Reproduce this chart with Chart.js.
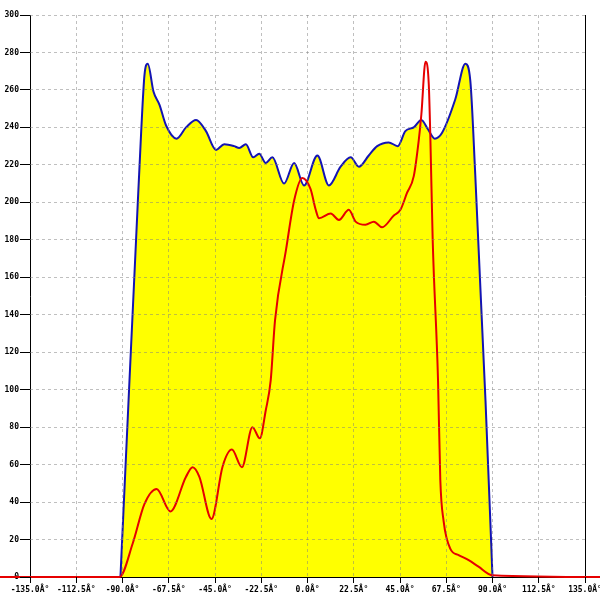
<!DOCTYPE html>
<html>
<head>
<meta charset="utf-8">
<script src="https://cdn.jsdelivr.net/npm/chart.js@4"></script>
<style>
  body { margin: 0; background: #fff; }
  canvas { display: block; }
</style>
</head>
<body>
<canvas id="chart" width="600" height="600"></canvas>
<script>
// angulos y valores
const blueAngles = [-91, -86.6, -83.4, -80.9, -79.3, -77.7, -74.9, -72, -68.8, -63.7, -59.1, -54.2, -49.4, -44.5, -40.5, -35.7, -33.2, -30, -26.4, -23.5, -20.3, -17.1, -11.4, -6.5, -1.7, 4.8, 10.4, 16.1, 21, 25, 29.8, 33.9, 39.5, 43.9, 47.6, 51.7, 55.4, 58.6, 61.9, 65.4, 71.9, 76.8, 79.2, 81.6, 86.6, 90];
const blueValues = [0, 105, 180, 238, 268, 274, 259, 252, 241, 234, 240, 244, 238, 228, 231, 230, 229, 231, 224, 226, 221, 224, 210, 221, 209, 225, 209, 219, 224, 219, 225, 230, 232, 230, 238, 240, 244, 239, 234, 237, 255, 274, 265, 215, 94, 0];

const redAngles = [-150, -91.5, -85, -79.3, -73.4, -66.7, -59.1, -55.9, -52.6, -46.7, -41.3, -36.8, -31.9, -26.8, -23.2, -20.3, -17.9, -15.8, -10.4, -6.5, -2.5, 1.5, 4, 5.6, 11.3, 15.3, 20.1, 23.4, 28.2, 32.3, 36.3, 42, 45.2, 48.4, 51.7, 54.1, 55.4, 57.4, 59, 59.8, 60.9, 63.5, 64.6, 66.2, 69.5, 73.5, 78.4, 83.2, 89.7, 150];
const redValues = [0, 0, 18, 39, 47, 35, 53.5, 58.6, 53.5, 31, 59, 68, 58.6, 80, 74, 89, 105, 137, 175, 201, 213, 207, 196, 191.5, 194, 190.6, 196, 189.7, 188, 189.7, 186.7, 193, 196, 205, 214, 233, 247, 275, 263, 233, 180, 105, 52, 30, 15, 11.7, 9, 5.5, 1, 0];

const xMin = -135, xMax = 135, xStep = 22.5;
const yMin = 0, yMax = 300, yStep = 20;

const toPoints = (xs, ys) => xs.map((x, i) => ({ x: x, y: ys[i] }));

const tickFont = { family: 'DejaVu Sans Mono', size: 8, weight: 'bold' };
const gridColor = 'rgba(128,128,128,0.5)';

// ejes negros: encima del relleno amarillo pero debajo de la linea roja
const axisLines = {
    id: 'axisLines',
    afterDatasetDraw(chart, args) {
        if (args.index !== 1) return;
        const a = chart.chartArea;
        const c = chart.ctx;
        const l = Math.round(a.left) + 0.5, r = Math.round(a.right) + 0.5;
        const t = Math.round(a.top), b = Math.round(a.bottom) + 0.5;
        c.save();
        c.strokeStyle = '#000';
        c.lineWidth = 1;
        c.beginPath();
        c.moveTo(l, t); c.lineTo(l, b);
        c.moveTo(l, b); c.lineTo(r, b);
        c.moveTo(r, t); c.lineTo(r, b);
        c.stroke();
        c.restore();
    }
};

const ctx = document.getElementById('chart').getContext('2d');
new Chart(ctx, {
    type: 'line',
    data: {
        datasets: [
            {
                data: toPoints(redAngles, redValues),
                borderColor: '#e60000',
                borderWidth: 2,
                pointRadius: 0,
                fill: false,
                cubicInterpolationMode: 'monotone',
                clip: false,
                order: 0
            },
            {
                data: toPoints(blueAngles, blueValues),
                borderColor: '#1414b4',
                backgroundColor: '#ffff00',
                borderWidth: 2,
                pointRadius: 0,
                fill: 'origin',
                cubicInterpolationMode: 'monotone',
                order: 1
            }
        ]
    },
    options: {
        responsive: false,
        animation: false,
        layout: { padding: { top: 15, left: 0, right: 15, bottom: 0 } },
        plugins: { legend: { display: false }, tooltip: { enabled: false } },
        scales: {
            x: {
                type: 'linear',
                min: xMin,
                max: xMax,
                ticks: {
                    stepSize: xStep,
                    autoSkip: false,
                    maxRotation: 0,
                    padding: 2,
                    color: '#000',
                    font: tickFont,
                    callback: v => v.toFixed(1) + 'Â°'
                },
                grid: {
                    z: 1,
                    color: c => (c.index === 0 || c.tick.value === xMax) ? 'transparent' : gridColor,
                    tickColor: '#000',
                    tickLength: 6,
                    tickBorderDash: []
                },
                border: { display: false, dash: [3, 3] },
                afterFit: s => { s.height = 23; s.paddingLeft = 0; s.paddingRight = 0; }
            },
            y: {
                min: yMin,
                max: yMax,
                ticks: {
                    stepSize: yStep,
                    padding: 1,
                    color: '#000',
                    font: tickFont
                },
                grid: {
                    z: 1,
                    color: c => c.index === 0 ? 'transparent' : gridColor,
                    tickColor: '#000',
                    tickLength: 10,
                    tickBorderDash: []
                },
                border: { display: false, dash: [3, 3] },
                afterFit: s => { s.width = 30; }
            }
        }
    },
    plugins: [axisLines]
});
</script>
</body>
</html>
